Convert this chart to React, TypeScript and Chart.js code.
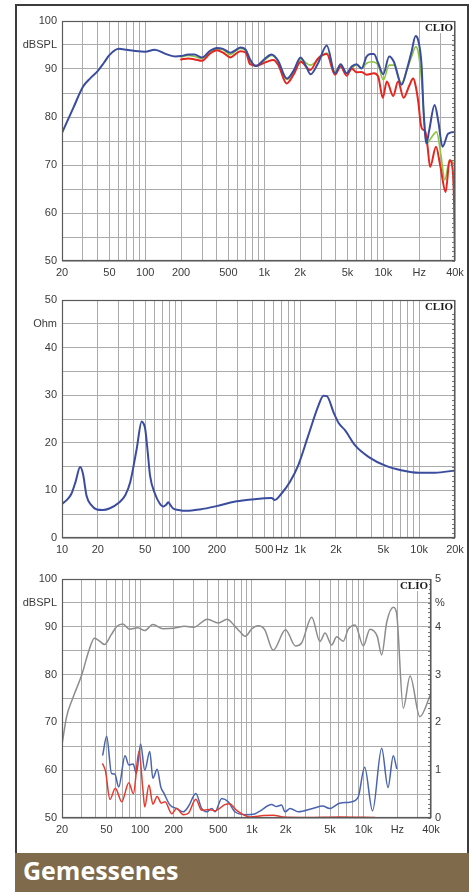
import React, { useEffect, useRef } from 'react';
import { Chart, registerables } from 'chart.js';

Chart.register(...registerables);

const FONT = '"Liberation Sans", Arial, sans-serif';
const GRID = '#ababab';
const TICK_COLOR = '#3a3a3a';

// ---------- Chart 1: frequency response (dBSPL) ----------
const splYTicks = [50, 55, 60, 65, 70, 75, 80, 85, 90, 95, 100];
const splYLabels = ['50', '', '60', '', '70', '', '80', '', '90', 'dBSPL', '100'];
const wideXTicks = [20, 50, 100, 200, 500, 1000, 2000, 5000, 10000, 20000, 40000];
const wideXLabels = ['20', '50', '100', '200', '500', '1k', '2k', '5k', '10k', 'Hz', '40k'];

const frBlueFreq = [20, 25, 30, 35, 40, 45, 50, 60, 70, 80, 100, 120, 150, 180, 200, 230, 260, 300, 350, 400, 450, 520, 580, 630, 700, 760, 850, 1000, 1150, 1300, 1550, 1760, 2020, 2250, 2450, 2830, 3350, 3930, 4380, 4920, 5420, 5970, 6560, 7240, 7820, 8340, 9060, 9980, 11200, 12260, 14230, 15850, 17270, 18660, 19630, 20950, 21800, 23000, 24200, 26970, 29000, 31400, 35000, 40000];
const frBlue = [76.7, 82.0, 86.3, 88.2, 89.6, 91.3, 92.9, 94.2, 94.0, 93.8, 93.6, 94.0, 93.1, 92.6, 92.7, 93.0, 93.0, 92.4, 93.8, 94.4, 94.2, 93.4, 94.0, 94.5, 94.0, 92.0, 90.6, 92.0, 93.0, 91.8, 88.0, 89.6, 92.4, 90.5, 88.9, 91.2, 94.9, 89.1, 91.0, 89.1, 90.5, 91.0, 90.1, 92.6, 93.1, 93.1, 91.2, 88.9, 92.6, 91.5, 86.7, 90.1, 93.6, 96.9, 96.0, 90.8, 81.0, 74.5, 77.0, 82.5, 79.0, 73.8, 76.5, 76.9];

const frGreenFreq = [200, 230, 260, 300, 350, 400, 450, 520, 580, 630, 700, 760, 850, 1000, 1150, 1300, 1550, 1760, 2020, 2430, 2830, 3350, 3930, 4380, 4920, 5970, 6560, 7240, 8000, 9060, 10000, 11200, 12300, 14200, 15800, 17300, 18700, 19600, 21000, 22300, 23300, 25000, 28000, 30500, 32800, 36000, 38500, 40000];
const frGreen = [92.5, 92.8, 92.6, 92.2, 93.6, 94.2, 94.0, 93.0, 93.8, 94.3, 93.8, 91.6, 90.6, 91.8, 92.8, 91.6, 87.8, 89.4, 92.0, 90.8, 92.0, 93.3, 89.4, 90.9, 89.1, 90.9, 90.1, 91.2, 91.5, 90.8, 87.7, 90.8, 90.8, 87.0, 89.8, 92.6, 94.6, 93.6, 87.4, 78.0, 74.5, 75.5, 76.9, 72.0, 66.9, 71.0, 70.5, 70.0];

const frRedFreq = [200, 230, 260, 300, 350, 400, 450, 520, 580, 630, 700, 760, 864, 1050, 1190, 1315, 1540, 1760, 2020, 2430, 2830, 3350, 3930, 4380, 4920, 5420, 5970, 6560, 7240, 8340, 9060, 9900, 10700, 12100, 13300, 14800, 16500, 17800, 18500, 19700, 20500, 21200, 22500, 23500, 24700, 27700, 30000, 33400, 36000, 38000, 39300, 40000];
const frRed = [92.0, 92.2, 92.0, 91.7, 93.2, 93.9, 93.4, 92.4, 93.2, 93.7, 93.4, 91.0, 90.7, 91.5, 91.9, 90.8, 87.0, 88.8, 91.5, 89.8, 92.2, 93.1, 88.8, 90.5, 88.6, 90.1, 89.3, 89.4, 88.8, 89.1, 88.4, 84.0, 87.4, 84.4, 87.4, 84.0, 86.5, 88.0, 87.0, 83.0, 79.0, 77.5, 77.0, 74.0, 69.6, 73.8, 70.0, 64.4, 71.0, 69.6, 62.0, 50.0];

// ---------- Chart 2: impedance (Ohm) ----------
const ohmYTicks = [0, 5, 10, 15, 20, 25, 30, 35, 40, 45, 50];
const ohmYLabels = ['0', '', '10', '', '20', '', '30', '', '40', 'Ohm', '50'];
const ohmXTicks = [10, 20, 50, 100, 200, 500, 700, 1000, 2000, 5000, 10000, 20000];
const ohmXLabels = ['10', '20', '50', '100', '200', '500', 'Hz', '1k', '2k', '5k', '10k', '20k'];

const impFreq = [10, 11, 12, 13, 14.2, 15, 16.1, 17.5, 19.6, 22, 25, 30, 34, 37.4, 42.4, 46.7, 48.5, 50, 52.5, 54.9, 60.4, 66, 71, 75, 78, 82, 86, 95, 111, 144, 199, 292, 391, 575, 613, 696, 818, 962, 1170, 1425, 1570, 1680, 1910, 2100, 2390, 2910, 3780, 5200, 7200, 9900, 13600, 20000];
const impOhm = [7.2, 8.0, 9.3, 11.8, 14.9, 13.5, 8.8, 7.0, 6.0, 5.9, 6.2, 7.4, 9.0, 11.7, 18.7, 24.5, 24.0, 22.9, 18.0, 13.1, 9.3, 7.3, 6.6, 7.0, 7.5, 6.8, 6.2, 5.9, 5.7, 6.0, 6.7, 7.7, 8.1, 8.4, 8.0, 9.3, 11.7, 15.2, 21.5, 27.8, 29.9, 29.8, 26.4, 24.2, 22.6, 19.4, 17.0, 15.2, 14.2, 13.7, 13.7, 14.2];

// ---------- Chart 3: distortion ----------
const pctTicks = [0, 0.5, 1, 1.5, 2, 2.5, 3, 3.5, 4, 4.5, 5];
const pctLabels = ['0', '', '1', '', '2', '', '3', '', '4', '%', '5'];

const thdGrayFreq = [20, 22, 25, 30, 35, 39, 44, 48, 55, 62, 70, 80, 95, 110, 130, 160, 200, 250, 300, 400, 500, 600, 700, 780, 870, 1000, 1130, 1300, 1550, 2000, 2450, 2780, 3430, 4060, 4510, 5170, 5730, 6560, 7280, 8380, 9920, 11380, 13220, 14480, 16080, 18420, 19680, 22600, 26000, 31800, 40000];
const thdGray = [65.3, 71.2, 75.1, 79.9, 85.2, 87.6, 86.9, 86.3, 88.3, 90.1, 90.6, 89.5, 89.8, 89.2, 90.5, 89.6, 89.7, 90.1, 89.9, 91.6, 90.8, 91.6, 90.2, 89.0, 88.0, 89.6, 90.2, 89.4, 85.1, 89.4, 86.0, 86.6, 92.0, 86.9, 88.7, 86.2, 87.9, 87.0, 89.5, 90.4, 86.0, 89.5, 88.0, 84.1, 91.0, 94.1, 92.9, 73.0, 79.7, 71.2, 76.1];

const thdBlueFreq = [46.3, 50.2, 55.5, 59.3, 64.3, 73.3, 79.2, 86.6, 92.6, 101, 110, 122, 130, 142, 153, 164, 185, 212, 243, 270, 315, 355, 394, 437, 468, 537, 614, 705, 870, 1070, 1170, 1500, 1660, 1840, 1980, 2200, 2600, 3500, 4300, 4950, 6100, 7500, 8900, 10200, 12000, 14480, 16500, 18400, 19700];
const thdBlue = [63.2, 67.1, 59.3, 59.2, 56.5, 63.0, 61.1, 61.3, 59.3, 65.5, 60.0, 63.9, 58.3, 60.2, 56.5, 55.1, 52.7, 52.0, 51.3, 52.4, 55.1, 52.0, 51.3, 52.0, 51.3, 54.1, 53.4, 51.3, 50.7, 50.9, 51.4, 52.8, 52.4, 52.7, 51.3, 52.0, 51.3, 52.0, 52.5, 52.0, 53.1, 53.3, 54.3, 60.6, 51.5, 64.6, 56.4, 63.0, 60.4];

const thdRedFreq = [46.3, 49, 53.7, 60, 68.5, 79.2, 87, 97.6, 106, 110, 120, 130, 142, 155, 167, 192, 212, 243, 270, 315, 355, 410, 468, 573, 630, 730, 870, 960, 1270, 1550, 1900, 3100, 6100, 12600];
const thdRed = [61.3, 59.8, 53.9, 56.2, 53.4, 57.4, 55.1, 63.9, 55.8, 52.3, 56.9, 52.9, 54.5, 53.1, 53.4, 50.9, 52.0, 50.7, 51.0, 53.9, 51.6, 51.8, 51.5, 52.8, 53.0, 51.6, 50.5, 50.2, 50.5, 50.6, 50.2, 50.1, 50.2, 50.1];

const BLUE = '#3a4c9e';
const GREEN = '#8cc43f';
const RED = '#e5261f';
const GRAY = '#8c8c8c';
const BLUE3 = '#4a64ae';
const RED3 = '#e43a2e';

function logGrid(min: number, max: number): number[] {
  const out: number[] = [];
  for (let e = 0; e <= 5; e++) {
    for (let m = 1; m <= 9; m++) {
      const v = m * Math.pow(10, e);
      if (v >= min && v <= max) out.push(v);
    }
  }
  return out;
}

function pts(freq: number[], vals: number[]) {
  return freq.map((f, i) => ({ x: f, y: vals[i] }));
}

function labelFor(values: number[], labels: string[], v: number): string {
  for (let i = 0; i < values.length; i++) {
    if (Math.abs(values[i] - v) < 1e-6) return labels[i];
  }
  return '';
}

const framePlugin = {
  id: 'clioFrame',
  afterDraw(chart: any, _args: any, opts: any) {
    const { ctx, chartArea: a } = chart;
    ctx.save();
    const ys = chart.scales[opts.tickAxis || 'y'];
    if (ys && opts.minorStep) {
      ctx.strokeStyle = '#777';
      ctx.lineWidth = 1;
      ctx.beginPath();
      for (let v = ys.min; v <= ys.max + 1e-9; v += opts.minorStep) {
        const y = Math.round(ys.getPixelForValue(v)) + 0.5;
        ctx.moveTo(a.right - 3, y);
        ctx.lineTo(a.right, y);
      }
      ctx.stroke();
    }
    ctx.strokeStyle = '#5a5a5a';
    ctx.lineWidth = 1.2;
    ctx.strokeRect(a.left + 0.5, a.top + 0.5, a.right - a.left - 1, a.bottom - a.top - 1);
    ctx.font = 'bold 11px "Liberation Serif", "DejaVu Serif", serif';
    ctx.textAlign = 'right';
    ctx.textBaseline = 'alphabetic';
    const w = ctx.measureText('CLIO').width;
    const rx = a.right - (opts.clioRight ?? 2);
    const by = a.top + (opts.clioTop ?? 10);
    ctx.fillStyle = '#ffffff';
    ctx.fillRect(rx - w - 2, a.top + 2, w + 3, by - a.top);
    ctx.fillStyle = '#1a1a1a';
    ctx.fillText('CLIO', rx, by);
    ctx.restore();
  },
};

type DS = { freq: number[]; vals: number[]; color: string; width: number; axis?: string };

type Cfg = {
  xMin: number;
  xMax: number;
  xTicks: number[];
  xLabels: string[];
  yMin: number;
  yMax: number;
  yTicks: number[];
  yLabels: string[];
  series: DS[];
  pad: { top: number; right: number };
  xHeight: number;
  right?: { min: number; max: number; ticks: number[]; labels: string[]; width: number };
  minorStep: number;
  tickAxis: string;
  clioRight: number;
  clioTop: number;
};

function makeConfig(c: Cfg): any {
  const grid = logGrid(c.xMin, c.xMax);
  const tickFont = { family: FONT, size: 11 };
  const scales: any = {
    x: {
      type: 'logarithmic',
      min: c.xMin,
      max: c.xMax,
      afterBuildTicks: (s: any) => {
        s.ticks = grid.map((v) => ({ value: v }));
      },
      afterFit: (s: any) => {
        s.height = c.xHeight;
      },
      ticks: {
        autoSkip: false,
        maxRotation: 0,
        minRotation: 0,
        padding: 5,
        color: TICK_COLOR,
        font: tickFont,
        callback: (v: any) => labelFor(c.xTicks, c.xLabels, Number(v)),
      },
      grid: { color: GRID, lineWidth: 1, drawTicks: false },
      border: { display: false },
    },
    y: {
      type: 'linear',
      position: 'left',
      min: c.yMin,
      max: c.yMax,
      afterBuildTicks: (s: any) => {
        s.ticks = c.yTicks.map((v) => ({ value: v }));
      },
      afterFit: (s: any) => {
        s.width = 46;
      },
      ticks: {
        autoSkip: false,
        padding: 5,
        color: TICK_COLOR,
        font: tickFont,
        callback: (v: any) => labelFor(c.yTicks, c.yLabels, Number(v)),
      },
      grid: { color: GRID, lineWidth: 1, drawTicks: false },
      border: { display: false },
    },
  };
  if (c.right) {
    const r = c.right;
    scales.y1 = {
      type: 'linear',
      position: 'right',
      min: r.min,
      max: r.max,
      afterBuildTicks: (s: any) => {
        s.ticks = r.ticks.map((v) => ({ value: v }));
      },
      afterFit: (s: any) => {
        s.width = r.width;
      },
      ticks: {
        autoSkip: false,
        padding: 4,
        color: TICK_COLOR,
        font: tickFont,
        callback: (v: any) => labelFor(r.ticks, r.labels, Number(v)),
      },
      grid: { display: false, drawTicks: false },
      border: { display: false },
    };
  }
  return {
    type: 'line',
    data: {
      datasets: c.series.map((s) => ({
        data: pts(s.freq, s.vals),
        borderColor: s.color,
        borderWidth: s.width,
        pointRadius: 0,
        fill: false,
        cubicInterpolationMode: 'monotone',
        yAxisID: s.axis || 'y',
      })),
    },
    options: {
      responsive: false,
      animation: false,
      layout: { padding: { left: 0, right: c.pad.right, top: c.pad.top, bottom: 0 } },
      plugins: {
        legend: { display: false },
        tooltip: { enabled: false },
        clioFrame: { minorStep: c.minorStep, tickAxis: c.tickAxis, clioRight: c.clioRight, clioTop: c.clioTop },
      },
      elements: { line: { borderJoinStyle: 'round', borderCapStyle: 'round' } },
      scales,
    },
    plugins: [framePlugin],
  };
}

const cfgResponse: Cfg = {
  xMin: 20,
  xMax: 40000,
  xTicks: wideXTicks,
  xLabels: wideXLabels,
  yMin: 50,
  yMax: 100,
  yTicks: splYTicks,
  yLabels: splYLabels,
  series: [
    { freq: frBlueFreq, vals: frBlue, color: BLUE, width: 2 },
    { freq: frRedFreq, vals: frRed, color: RED, width: 2 },
    { freq: frGreenFreq, vals: frGreen, color: GREEN, width: 1.6 },
  ],
  pad: { top: 16, right: 14 },
  xHeight: 24,
  minorStep: 1,
  tickAxis: 'y',
  clioRight: 2,
  clioTop: 10,
};

const cfgImpedance: Cfg = {
  xMin: 10,
  xMax: 20000,
  xTicks: ohmXTicks,
  xLabels: ohmXLabels,
  yMin: 0,
  yMax: 50,
  yTicks: ohmYTicks,
  yLabels: ohmYLabels,
  series: [{ freq: impFreq, vals: impOhm, color: BLUE, width: 2 }],
  pad: { top: 15, right: 14 },
  xHeight: 27,
  minorStep: 1,
  tickAxis: 'y',
  clioRight: 2,
  clioTop: 10,
};

const cfgDistortion: Cfg = {
  xMin: 20,
  xMax: 40000,
  xTicks: wideXTicks,
  xLabels: wideXLabels,
  yMin: 50,
  yMax: 100,
  yTicks: splYTicks,
  yLabels: splYLabels,
  series: [
    { freq: thdRedFreq, vals: thdRed, color: RED3, width: 1.5 },
    { freq: thdBlueFreq, vals: thdBlue, color: BLUE3, width: 1.5 },
    { freq: thdGrayFreq, vals: thdGray, color: GRAY, width: 1.5 },
  ],
  pad: { top: 14, right: 0 },
  xHeight: 32,
  right: { min: 0, max: 5, ticks: pctTicks, labels: pctLabels, width: 38 },
  minorStep: 0.1,
  tickAxis: 'y1',
  clioRight: 3,
  clioTop: 10,
};

function ChartCanvas(props: { cfg: Cfg; left: number; top: number; width: number; height: number }) {
  const ref = useRef<HTMLCanvasElement | null>(null);
  useEffect(() => {
    if (!ref.current) return;
    const chart = new Chart(ref.current, makeConfig(props.cfg));
    return () => chart.destroy();
  }, []);
  return (
    <canvas
      ref={ref}
      width={props.width}
      height={props.height}
      style={{ position: 'absolute', left: props.left, top: props.top, width: props.width, height: props.height }}
    />
  );
}

export default function App() {
  return (
    <div style={{ position: 'absolute', left: 0, top: 0, width: 475, height: 892, background: '#ffffff', overflow: 'hidden' }}>
      <div
        style={{
          position: 'absolute',
          left: 15,
          top: 4,
          width: 454,
          height: 888,
          border: '2px solid #3c3c3c',
          borderBottom: 'none',
          boxSizing: 'border-box',
        }}
      />
      <ChartCanvas cfg={cfgResponse} left={16} top={5} width={453} height={280} />
      <ChartCanvas cfg={cfgImpedance} left={16} top={285} width={453} height={280} />
      <ChartCanvas cfg={cfgDistortion} left={16} top={565} width={453} height={285} />
      <div
        style={{
          position: 'absolute',
          left: 15,
          top: 853,
          width: 454,
          height: 39,
          background: '#7f6a4b',
          color: '#ffffff',
          fontFamily: '"Open Sans", "Noto Sans", sans-serif',
          fontWeight: 700,
          fontSize: 25,
          lineHeight: '34px',
          paddingLeft: 8,
          boxSizing: 'border-box',
        }}
      >
        Gemessenes
      </div>
    </div>
  );
}
